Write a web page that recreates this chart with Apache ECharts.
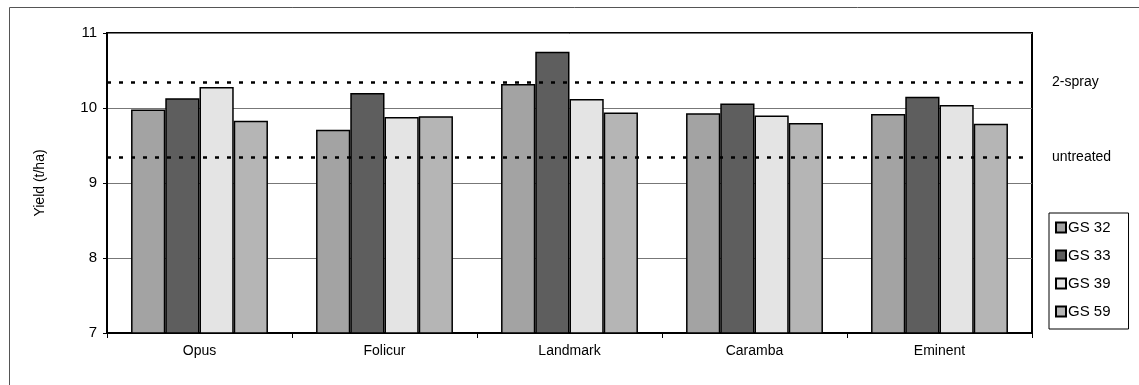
<!DOCTYPE html>
<html>
<head>
<meta charset="utf-8">
<script src="https://cdn.jsdelivr.net/npm/echarts@6/dist/echarts.min.js"></script>
<style>html,body{margin:0;padding:0;background:#fff}#c{width:1139px;height:385px}</style>
</head>
<body>
<div id="c"></div>
<script>
const categories = ['Opus', 'Folicur', 'Landmark', 'Caramba', 'Eminent'];
const seriesNames = ['GS 32', 'GS 33', 'GS 39', 'GS 59'];
const gs32 = [9.98, 9.71, 10.32, 9.93, 9.92];
const gs33 = [10.13, 10.20, 10.75, 10.06, 10.15];
const gs39 = [10.28, 9.88, 10.12, 9.90, 10.04];
const gs59 = [9.83, 9.89, 9.94, 9.80, 9.79];
const refNames = ['2-spray', 'untreated'];
const refValues = [10.35, 9.35];
const yTicks = [7, 8, 9, 10, 11];

const colors = ['#a3a3a3', '#5e5e5e', '#e4e4e4', '#b5b5b5'];
const values = [gs32, gs33, gs39, gs59];
const font = 'Liberation Sans, Arial, sans-serif';

const series = seriesNames.map((n, i) => ({
  name: n,
  type: 'bar',
  data: values[i],
  barGap: '0%',
  barCategoryGap: '26%',
  itemStyle: { color: colors[i], borderColor: '#000', borderWidth: 1.5 },
  emphasis: { disabled: true }
}));
series[0].markLine = {
  silent: true,
  symbol: ['none', 'none'],
  lineStyle: { type: [4, 8], color: '#000', width: 2.5 },
  label: { show: true, position: 'end', distance: 20, color: '#000', fontSize: 14, fontFamily: font,
           formatter: p => p.name },
  data: refNames.map((n, i) => ({ name: n, yAxis: refValues[i] }))
};

const chart = echarts.init(document.getElementById('c'), null, { renderer: 'canvas' });
chart.setOption({
  animation: false,
  backgroundColor: '#fff',
  textStyle: { fontFamily: font },
  graphic: [{
    type: 'rect', left: 7, top: 5, shape: { width: 1200, height: 420 },
    style: { fill: 'none', stroke: '#555', lineWidth: 1 }, silent: true
  }],
  grid: { left: 107, right: 107, top: 33, bottom: 52, show: true, borderColor: '#000', borderWidth: 2, backgroundColor: 'transparent' },
  legend: {
    orient: 'vertical', left: 1049, top: 213,
    data: seriesNames,
    icon: 'rect', itemWidth: 10, itemHeight: 10, itemGap: 13,
    borderColor: '#000', borderWidth: 1, padding: [7, 18, 10, 6],
    textStyle: { fontSize: 15, fontFamily: font, color: '#000', padding: [0, 0, 0, -3] },
    selectedMode: false
  },
  xAxis: {
    type: 'category', data: categories,
    axisLine: { lineStyle: { color: '#000', width: 2 } },
    axisTick: { show: true, length: 5, lineStyle: { color: '#000' } },
    axisLabel: { fontSize: 14, color: '#000', margin: 11, fontFamily: font }
  },
  yAxis: {
    type: 'value', min: yTicks[0], max: yTicks[yTicks.length - 1], interval: 1,
    name: 'Yield (t/ha)', nameLocation: 'middle', nameGap: 60,
    nameTextStyle: { fontSize: 14, color: '#000', fontFamily: font },
    axisLine: { show: true, lineStyle: { color: '#000', width: 2 } },
    axisTick: { show: true, length: 4, lineStyle: { color: '#000' } },
    axisLabel: { fontSize: 15, color: '#000', margin: 10, fontFamily: font },
    splitLine: { show: true, lineStyle: { color: '#777', width: 1 } }
  },
  series: series
});
</script>
</body>
</html>
